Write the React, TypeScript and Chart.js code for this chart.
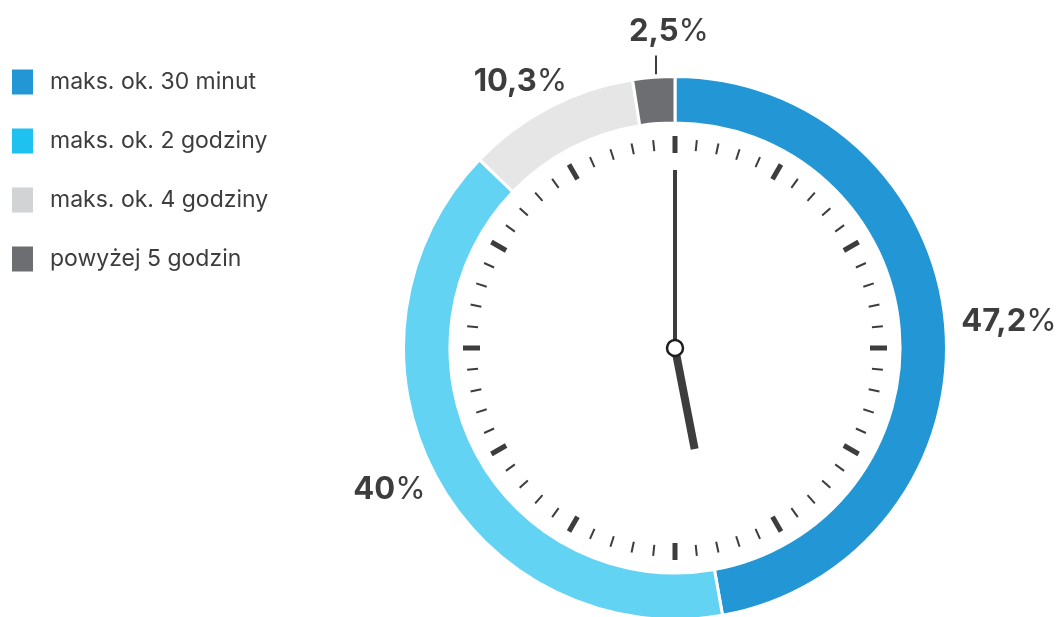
import React, { useEffect, useRef } from "react";
import { Chart, registerables } from "chart.js";

Chart.register(...registerables);

const categories = ["maks. ok. 30 minut", "maks. ok. 2 godziny", "maks. ok. 4 godziny", "powyżej 5 godzin"];
const values = [47.2, 40, 10.3, 2.5];
const valueLabels = ["47,2", "40", "10,3", "2,5"];
const segmentColors = ["#2397d5", "#63d3f4", "#e6e6e6", "#6d6e71"];
const legendColors = ["#2397d5", "#1ec1ef", "#d1d3d4", "#6d6e71"];

const W = 1056;
const H = 617;
const TEXT = "#3d3d3d";
const FONT = "Inter, 'Noto Sans', sans-serif";
const MINUTE_HAND_DEG = 0;
const HOUR_HAND_DEG = 169;

const clockPlugin = {
  id: "clockFace",
  afterDraw(chart: any) {
    const ctx: CanvasRenderingContext2D = chart.ctx;
    const meta = chart.getDatasetMeta(0);
    const arc0 = meta.data[0];
    const cx = arc0.x;
    const cy = arc0.y;
    const outer = arc0.outerRadius;

    // ticks
    ctx.save();
    ctx.strokeStyle = TEXT;
    for (let i = 0; i < 60; i++) {
      const a = (i * 6 * Math.PI) / 180;
      const sx = Math.sin(a);
      const sy = -Math.cos(a);
      const major = i % 5 === 0;
      const r1 = major ? 195 : 198;
      const r2 = major ? 212 : 209;
      ctx.lineWidth = major ? 5 : 2;
      ctx.beginPath();
      ctx.moveTo(cx + sx * r1, cy + sy * r1);
      ctx.lineTo(cx + sx * r2, cy + sy * r2);
      ctx.stroke();
    }
    const drawHand = (deg: number, len: number, w: number) => {
      const a = (deg * Math.PI) / 180;
      ctx.lineWidth = w;
      ctx.lineCap = "butt";
      ctx.beginPath();
      ctx.moveTo(cx, cy);
      ctx.lineTo(cx + Math.sin(a) * len, cy - Math.cos(a) * len);
      ctx.stroke();
    };
    drawHand(MINUTE_HAND_DEG, 178, 4);
    drawHand(HOUR_HAND_DEG, 103, 8);
    ctx.beginPath();
    ctx.arc(cx, cy, 8, 0, Math.PI * 2);
    ctx.fillStyle = "#ffffff";
    ctx.fill();
    ctx.lineWidth = 2.5;
    ctx.strokeStyle = "#1e1e1e";
    ctx.stroke();
    ctx.restore();

    // value labels
    ctx.save();
    ctx.textBaseline = "middle";
    ctx.textAlign = "left";
    meta.data.forEach((arc: any, i: number) => {
      const mid = (arc.startAngle + arc.endAngle) / 2;
      const dx = Math.cos(mid);
      const dy = Math.sin(mid);
      ctx.font = `700 31px ${FONT}`;
      const numW = ctx.measureText(valueLabels[i]).width;
      ctx.font = `400 31px ${FONT}`;
      const pctW = ctx.measureText("%").width;
      const tw = numW + pctW;
      const th = 26;
      let tx: number, ty: number;
      if (values[i] < 5) {
        const r1 = outer + 3;
        const r2 = outer + 22;
        ctx.strokeStyle = TEXT;
        ctx.lineWidth = 2;
        const lx = Math.round(cx + dx * r1) + 3;
        ctx.beginPath();
        ctx.moveTo(lx, cy + dy * r1);
        ctx.lineTo(lx, cy + dy * r2);
        ctx.stroke();
        tx = lx + 13;
        ty = cy + dy * r2 - 24;
      } else {
        const r = outer + 16;
        const ax = cx + dx * r;
        const ay = cy + dy * r;
        tx = ax + (dx * tw) / 2;
        ty = ay + (dy * th) / 2;
      }
      ctx.fillStyle = TEXT;
      ctx.font = `700 31px ${FONT}`;
      ctx.fillText(valueLabels[i], tx - tw / 2, ty);
      ctx.font = `400 31px ${FONT}`;
      ctx.fillText("%", tx - tw / 2 + numW, ty);
    });
    ctx.restore();

    // legend
    ctx.save();
    ctx.textBaseline = "middle";
    ctx.textAlign = "left";
    ctx.font = `400 23px ${FONT}`;
    categories.forEach((c, i) => {
      const y = 82 + i * 59;
      ctx.fillStyle = legendColors[i];
      ctx.fillRect(12, y - 12.5, 21, 25);
      ctx.fillStyle = TEXT;
      ctx.fillText(c, 50, y);
    });
    ctx.restore();
  },
};

export default function App() {
  const ref = useRef<HTMLCanvasElement | null>(null);
  useEffect(() => {
    document.body.style.margin = "0";
    if (!ref.current) return;
    const chart = new Chart(ref.current, {
      type: "doughnut",
      data: {
        labels: categories,
        datasets: [
          {
            data: values,
            backgroundColor: segmentColors,
            borderColor: "#ffffff",
            borderWidth: 3,
            clip: false as any,
          },
        ],
      },
      options: {
        responsive: false,
        animation: false,
        events: [],
        radius: 271.5,
        cutout: "82.9%",
        layout: { padding: { left: 405, right: 111, top: 79, bottom: 0 } },
        plugins: {
          legend: { display: false },
          tooltip: { enabled: false },
        },
      },
      plugins: [clockPlugin],
    });
    return () => chart.destroy();
  }, []);
  return (
    <div style={{ position: "fixed", left: 0, top: 0, width: W, height: H, overflow: "hidden", background: "#fff" }}>
      <canvas ref={ref} width={W} height={H} style={{ width: W, height: H, display: "block" }} />
    </div>
  );
}
